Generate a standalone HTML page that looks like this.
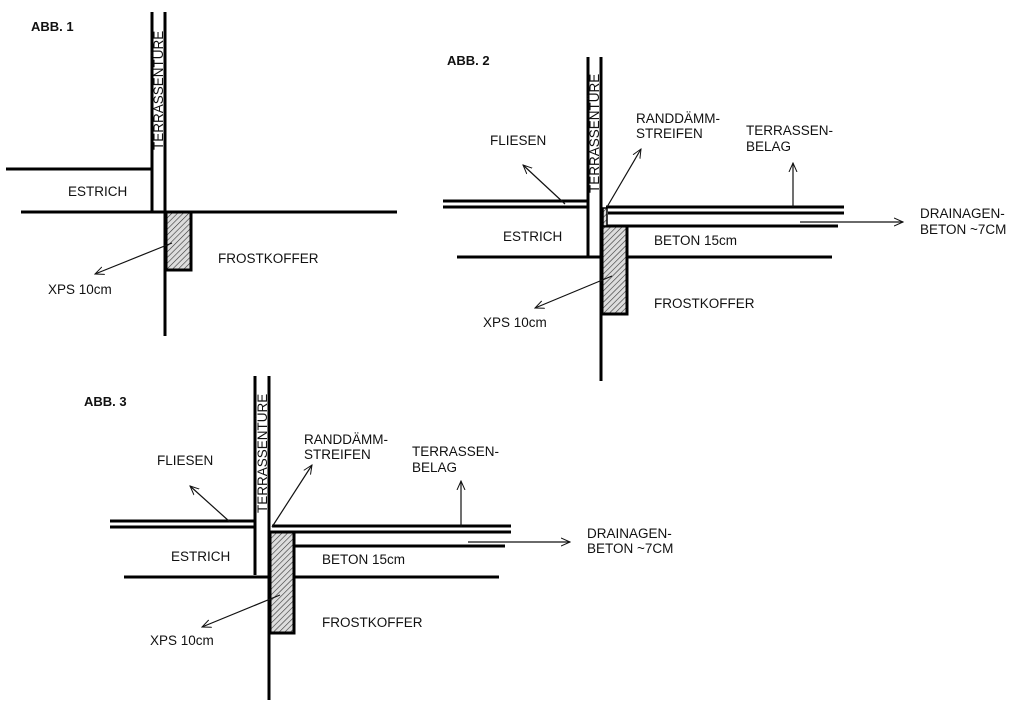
<!DOCTYPE html>
<html><head><meta charset="utf-8"><style>
html,body{margin:0;padding:0;background:#fff;}
svg{display:block;}
text{font-family:"Liberation Sans",sans-serif;font-size:13.5px;fill:#111;}
.b{font-weight:bold;font-size:13px;}
</style></head><body>
<svg width="1024" height="709" viewBox="0 0 1024 709">
<defs>
<pattern id="h" width="4" height="4" patternUnits="userSpaceOnUse" patternTransform="rotate(45)">
<rect width="4" height="4" fill="#ddd"/><line x1="0" y1="0" x2="0" y2="4" stroke="#333" stroke-width="1.2"/>
</pattern>
<marker id="a" markerWidth="10" markerHeight="10" refX="9" refY="5" orient="auto" markerUnits="userSpaceOnUse">
<path d="M0,1 L9,5 L0,9" fill="none" stroke="#111" stroke-width="1"/>
</marker>
</defs>
<g stroke="#000" stroke-width="3" fill="none">
<!-- ABB 1 -->
<line x1="152" y1="12" x2="152" y2="213"/>
<line x1="165" y1="12" x2="165" y2="336"/>
<line x1="6" y1="169" x2="152" y2="169"/>
<line x1="21" y1="212" x2="397" y2="212"/>
<rect x="166" y="212" width="25" height="58" fill="url(#h)"/>
<!-- ABB 2 -->
<line x1="588" y1="57" x2="588" y2="256"/>
<line x1="601" y1="57" x2="601" y2="381"/>
<line x1="443" y1="201" x2="588" y2="201"/>
<line x1="443" y1="207" x2="588" y2="207"/>
<line x1="606" y1="207" x2="844" y2="207"/>
<line x1="608" y1="213" x2="844" y2="213"/>
<line x1="627" y1="226" x2="838" y2="226"/>
<line x1="457" y1="257" x2="832" y2="257"/>
<rect x="602" y="226" width="25" height="88" fill="url(#h)"/>
<rect x="603" y="208" width="4" height="18" fill="url(#h)" stroke-width="1.5"/>
<!-- ABB 3 -->
<line x1="255" y1="376" x2="255" y2="575"/>
<line x1="269" y1="376" x2="269" y2="700"/>
<line x1="110" y1="521" x2="255" y2="521"/>
<line x1="110" y1="527" x2="255" y2="527"/>
<line x1="272" y1="526" x2="511" y2="526"/>
<line x1="276" y1="532" x2="511" y2="532"/>
<line x1="294" y1="546" x2="505" y2="546"/>
<line x1="124" y1="577" x2="499" y2="577"/>
<rect x="270" y="532" width="24" height="101" fill="url(#h)"/>
</g>
<g stroke="#111" stroke-width="1.2" fill="none" marker-end="url(#a)">
<line x1="172" y1="243" x2="95" y2="274"/>
<line x1="565" y1="204" x2="523" y2="165"/>
<line x1="607" y1="207" x2="641" y2="149"/>
<line x1="793" y1="207" x2="793" y2="163"/>
<line x1="800" y1="222" x2="903" y2="222"/>
<line x1="612" y1="276" x2="535" y2="308"/>
<line x1="230" y1="522" x2="190" y2="486"/>
<line x1="272" y1="527" x2="312" y2="465"/>
<line x1="461" y1="527" x2="461" y2="481"/>
<line x1="468" y1="542" x2="570" y2="542"/>
<line x1="280" y1="595" x2="202" y2="627"/>
</g>
<!-- texts -->
<text class="b" x="31" y="31">ABB. 1</text>
<text transform="translate(163,150) rotate(-90)" font-size="12">TERRASSENTÜRE</text>
<text x="68" y="196">ESTRICH</text>
<text x="218" y="263">FROSTKOFFER</text>
<text x="48" y="294">XPS 10cm</text>

<text class="b" x="447" y="65">ABB. 2</text>
<text transform="translate(599,193) rotate(-90)" font-size="12">TERRASSENTÜRE</text>
<text x="490" y="145">FLIESEN</text>
<text x="636" y="123">RANDDÄMM-</text>
<text x="636" y="138">STREIFEN</text>
<text x="746" y="135">TERRASSEN-</text>
<text x="746" y="151">BELAG</text>
<text x="503" y="241">ESTRICH</text>
<text x="654" y="245">BETON 15cm</text>
<text x="654" y="308">FROSTKOFFER</text>
<text x="483" y="327">XPS 10cm</text>
<text x="920" y="218">DRAINAGEN-</text>
<text x="920" y="234">BETON ~7CM</text>

<text class="b" x="84" y="406">ABB. 3</text>
<text transform="translate(267,513) rotate(-90)" font-size="12">TERRASSENTÜRE</text>
<text x="157" y="465">FLIESEN</text>
<text x="304" y="444">RANDDÄMM-</text>
<text x="304" y="459">STREIFEN</text>
<text x="412" y="456">TERRASSEN-</text>
<text x="412" y="472">BELAG</text>
<text x="171" y="561">ESTRICH</text>
<text x="322" y="564">BETON 15cm</text>
<text x="322" y="627">FROSTKOFFER</text>
<text x="150" y="645">XPS 10cm</text>
<text x="587" y="538">DRAINAGEN-</text>
<text x="587" y="553">BETON ~7CM</text>
</svg>
</body></html>
